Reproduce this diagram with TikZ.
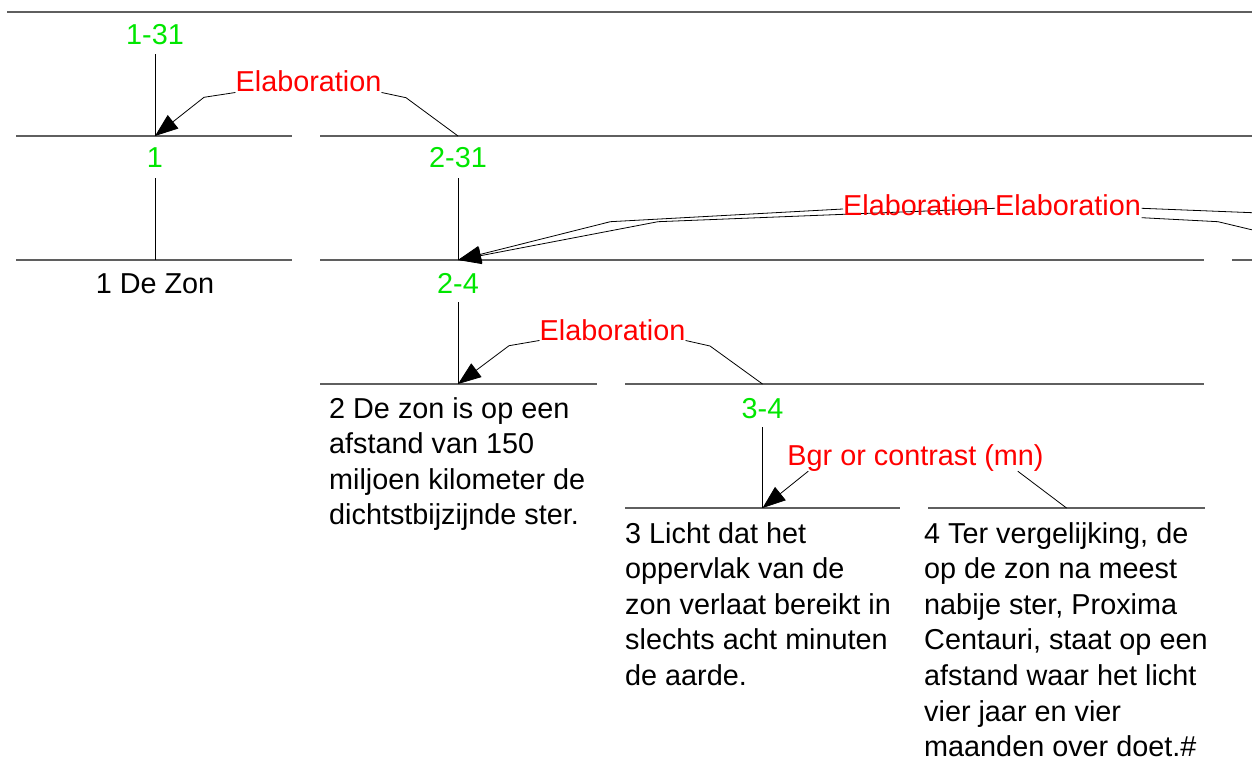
\documentclass[tikz,border=0pt]{standalone}
\usepackage{fontspec}
\setmainfont{Liberation Sans}
\usetikzlibrary{arrows.meta}
\definecolor{spangreen}{RGB}{0,230,0}
\definecolor{relred}{RGB}{255,0,0}
\definecolor{spangray}{RGB}{95,95,95}

\begin{document}
\begin{tikzpicture}[x=1pt,y=-1pt,
  every node/.style={inner sep=0pt, font=\fontsize{28.8}{35.6}\selectfont},
  span/.style={text=spangreen, anchor=base},
  rel/.style={text=relred, anchor=base},
  seg/.style={draw=spangray, line width=1.2pt},
  rule/.style={draw=spangray, line width=1.6pt},
  stem/.style={draw=black, line width=0.8pt},
  link/.style={draw=black, line width=0.8pt},
  tip/.style={-{Triangle[length=23pt,width=17pt]}},
  leaf/.style={anchor=base west, align=left},
]
\useasboundingbox (0,0) rectangle (1252,759);
\clip (0,0) rectangle (1252,759);

% horizontal span bars
\draw[rule] (7,12) -- (1260,12);
\draw[seg] (16,136) -- (292,136);
\draw[seg] (320,136) -- (1260,136);
\draw[seg] (16,260) -- (292,260);
\draw[seg] (320,260) -- (1204,260);
\draw[seg] (1232,260) -- (1260,260);
\draw[seg] (320,384) -- (597,384);
\draw[seg] (625,384) -- (1204,384);
\draw[seg] (625,508) -- (900,508);
\draw[seg] (928,508) -- (1205,508);

% attachment points on the bars
\coordinate (a131) at (155,136);
\coordinate (a231) at (458,136);
\coordinate (a1)   at (155,260);
\coordinate (a24)  at (458,260);
\coordinate (a2)   at (458,384);
\coordinate (a34)  at (762.5,384);
\coordinate (a3)   at (762.5,508);
\coordinate (a4)   at (1066.5,508);
\coordinate (off1) at (1300,214.6);
\coordinate (off2) at (1300,241.3);

% span labels
\node[span] (s131) at (155,45)  {1-31};
\node[span] (s1)   at (155,168) {1};
\node[span] (s231) at (458,168) {2-31};
\node[span] (s24)  at (458,293) {2-4};
\node[span] (s34)  at (762.5,418) {3-4};

% vertical stems
\draw[stem] ([yshift=-9pt]s131.south) -- (a131);
\draw[stem] ([yshift=-10pt]s1.south) -- (a1);
\draw[stem] ([yshift=-10pt]s231.south) -- (a24);
\draw[stem] ([yshift=-9pt]s24.south) -- (a2);
\draw[stem] ([yshift=-9pt]s34.south) -- (a3);

% relation connectors (drawn under the labels)
\draw[link,tip] (843,209) -- (610.3,221.7) -- (a24);
\draw[link,tip] (995,208.3) -- (658,221.7) -- (a24);
\draw[link] (1141.7,208.3) -- (off1);
\draw[link] (1141.7,217.7) -- (1218,221.7) -- (off2);

% relation labels
\node[rel] (r1) at (308.5,92)  {Elaboration};
\node[rel] (r2) at (612.5,340) {Elaboration};
\node[rel] (r3) at (915.5,465) {Bgr or contrast (mn)};
\node[rel] (r4) at (916,216)   {Elaboration};
\node[rel] (r5) at (1068,216)  {Elaboration};

\draw[link,tip] (r1.south west) -- (204,97.3) -- (a131);
\draw[link] (r1.south east) -- (406,97.7) -- (a231);
\draw[link,tip] (r2.south west) -- (509,345.7) -- (a2);
\draw[link] (r2.south east) -- (710,346) -- (a34);
\draw[link,tip] ([xshift=21pt]r3.south west) -- (a3);
\draw[link] ([xshift=-26pt]r3.south east) -- (a4);

% leaf texts (anchored at the baseline of their last line)
\node[anchor=base] (t1) at (155,293) {1 De Zon};
\node[leaf] (t2) at (329,524.8) {2 De zon is op een\\afstand van 150\\miljoen kilometer de\\dichtstbijzijnde ster.};
\node[leaf] (t3) at (625,685.4) {3 Licht dat het\\oppervlak van de\\zon verlaat bereikt in\\slechts acht minuten\\de aarde.};
\node[leaf] (t4) at (924,756.6) {4 Ter vergelijking, de\\op de zon na meest\\nabije ster, Proxima\\Centauri, staat op een\\afstand waar het licht\\vier jaar en vier\\maanden over doet.\#};
\end{tikzpicture}
\end{document}
